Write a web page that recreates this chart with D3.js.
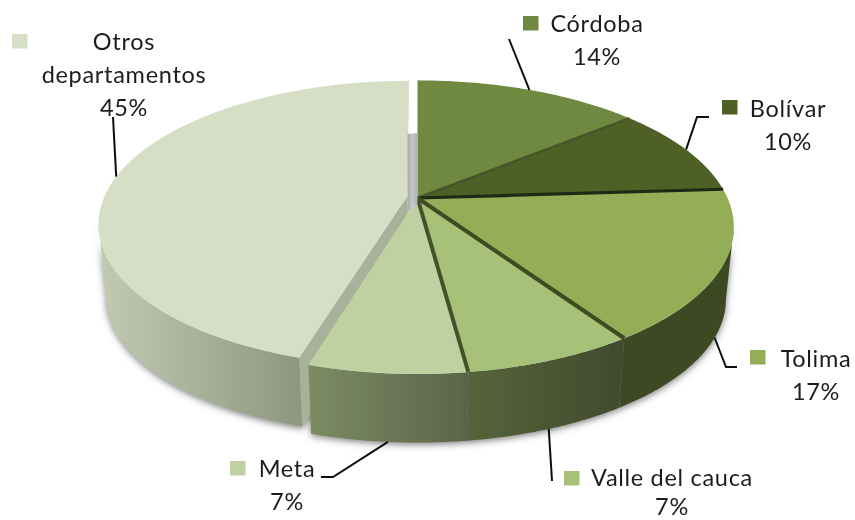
<!DOCTYPE html>
<html><head><meta charset="utf-8">
<script src="https://cdn.jsdelivr.net/npm/d3@7"></script>
<style>html,body{margin:0;padding:0;background:#fff}svg{display:block}</style>
</head><body><svg id="c" width="855" height="520"></svg>
<script>
// Data, clockwise from 12 o'clock
const categories = ["Córdoba","Bolívar","Tolima","Valle del cauca","Meta","Otros departamentos"];
const values = [14, 10, 16.6, 7.3, 6.7, 45.4];
const topColors = ["#70893f","#4f6128","#93ae57","#a7c178","#c0d1a1","#d6dfc6"];
const wallStart = ["#5f7434","#46562a","#3e4a22","#56643a","#7c8c63","#c0cbb0"];
const wallEnd   = ["#5f7434","#46562a","#3e4a22","#414a2e","#5b644b","#8d977f"];
const separators = ["#47572a","#1f2a12","#3f4c24","#44512a"];
const sepWidths = [2.5,3.2,4,4];

// Layout
const cx=417.5, cy=198, R=310, A=141, k=0.1987, depth=73, bottomScale=0.975;
const explodeIndex=5, explodeX=-0.0323, explodeY=-0.015, explodeR=0.98;
const labelLines=[["Córdoba"],["Bolívar"],["Tolima"],["Valle del cauca"],["Meta"],["Otros","departamentos"]];
const labelX=[597,788,816,672,287,124];
const labelY=[32,117,367,486,477,50];
const lineGaps=[33,33,33,29,33,33];
const swatchX=[523,722,750,564,230,12];
const swatchY=[16,100,350,471,461,34];
const leaderEnd=[[[509,39]],[[709,117],[697,117]],[[737,367],[726,367]],[[552,481]],[[321,477],[333,477]],[[113,117]]];
const leaderOnBottom=[false,false,true,true,true,false];
const wallFrom=Math.acos(-k), wallTo=2*Math.PI-Math.acos(-k);

const svg=d3.select("#c");
const defs=svg.append("defs");
const shadow=defs.append("filter").attr("id","sh").attr("x","-10%").attr("y","-10%").attr("width","120%").attr("height","130%");
shadow.append("feDropShadow").attr("dx",0).attr("dy",2).attr("stdDeviation",3.5).attr("flood-color","#555").attr("flood-opacity",.75);
defs.append("filter").attr("id","soft").append("feGaussianBlur").attr("stdDeviation",.45);
defs.append("filter").attr("id","softT").append("feGaussianBlur").attr("stdDeviation",.3);

const pie=d3.pie().sort(null).value(d=>d);
const arcs=pie(values);

// Perspective projection of the unit disc
function project(a,r,off,bottom){
  const x=r*Math.sin(a)+off[0], y=-r*Math.cos(a)+off[1];
  const d=1-k*y, s=bottom?bottomScale:1;
  return [cx+s*R*x/d, cy+s*A*y/d+(bottom?depth:0)];
}
const offs=arcs.map((_,i)=>i===explodeIndex?[explodeX,explodeY]:[0,0]);
const radii=arcs.map((_,i)=>i===explodeIndex?explodeR:1);
const rimBetween=(a0,a1,i,bottom)=>d3.range(0,61).map(t=>project(a0+(a1-a0)*t/60,radii[i],offs[i],bottom));
const rim=(d,i,bottom)=>rimBetween(d.startAngle,d.endAngle,i,bottom);
const wallPts=(d,i)=>{
  const a0=Math.max(d.startAngle,wallFrom), a1=Math.min(d.endAngle,wallTo);
  if(a1<=a0) return null;
  return rimBetween(a0,a1,i,false).concat(rimBetween(a0,a1,i,true).reverse());
};
const line=d3.line();
const chart=svg.append("g").attr("filter","url(#soft)");
const walls=chart.append("g").attr("filter","url(#sh)");

arcs.forEach((d,i)=>{
  const p=wallPts(d,i); if(!p) return;
  const xs=p.map(q=>q[0]);
  const g=defs.append("linearGradient").attr("id","w"+i).attr("gradientUnits","userSpaceOnUse")
    .attr("x1",d3.min(xs)).attr("x2",d3.max(xs)).attr("y1",0).attr("y2",0);
  g.append("stop").attr("offset",0).attr("stop-color",wallStart[i]);
  g.append("stop").attr("offset",1).attr("stop-color",wallEnd[i]);
});
// exploded slice wall + radial end wall
const ex=arcs[explodeIndex];
walls.append("path").attr("d",line(wallPts(ex,explodeIndex))+"Z").attr("fill","url(#w5)");
const apex=project(0,0,offs[explodeIndex],false);
const frontT=project(ex.startAngle,radii[explodeIndex],offs[explodeIndex],false);
const frontB=project(ex.startAngle,radii[explodeIndex],offs[explodeIndex],true);
walls.append("path").attr("d",line([apex,frontT,frontB,[apex[0],apex[1]+depth]])+"Z").attr("fill","#a8b29a");
[4,3,2].forEach(i=>{
  const d=arcs[i], p=wallPts(d,i);
  if(p) walls.append("path").attr("d",line(p)+"Z").attr("fill",`url(#w${i})`);
});
// top faces
arcs.forEach((d,i)=>{
  chart.append("path").attr("d",line([project(0,0,offs[i],false)].concat(rim(d,i,false)))+"Z").attr("fill",topColors[i]);
});
// slice separators
separators.forEach((c,i)=>{
  chart.append("path").attr("d",line([project(0,0,[0,0],false),project(arcs[i].endAngle,1,[0,0],false)]))
    .attr("stroke",c).attr("stroke-width",sepWidths[i]).attr("fill","none");
});
// central inner wall seen through the gap
const gapGrad=defs.append("linearGradient").attr("id","gap");
[["0","#a8aba6"],["0.5","#c6c6cc"],["1","#adaeac"]].forEach(s=>gapGrad.append("stop").attr("offset",s[0]).attr("stop-color",s[1]));
const c0=project(0,0,[0,0],false);
chart.append("path").attr("d",line([[apex[0],apex[1]-62],[c0[0],c0[1]-65],[c0[0],c0[1]+6],[apex[0],apex[1]+16]])+"Z").attr("fill","url(#gap)");

// labels
const fmt=d3.format(".0f");
const font="Lato, 'Open Sans', sans-serif";
const labels=svg.append("g").attr("filter","url(#softT)");
arcs.forEach((d,i)=>{
  const mid=(d.startAngle+d.endAngle)/2;
  const pts=leaderEnd[i].concat([project(mid,radii[i],offs[i],leaderOnBottom[i])]);
  labels.append("path").attr("d",line(pts)).attr("fill","none").attr("stroke","#111").attr("stroke-width",2);
  labels.append("rect").attr("x",swatchX[i]).attr("y",swatchY[i]).attr("width",15.5).attr("height",14.5).attr("fill",topColors[i]);
  const rows=labelLines[i].concat([fmt(d.data)+"%"]);
  rows.forEach((s,j)=>{
    labels.append("text").attr("x",labelX[i]).attr("y",labelY[i]+j*lineGaps[i])
      .attr("text-anchor","middle").attr("font-family",font).attr("font-size",23.5).attr("letter-spacing",0.7).attr("fill","#1d1d1d").text(s);
  });
});
</script></body></html>
